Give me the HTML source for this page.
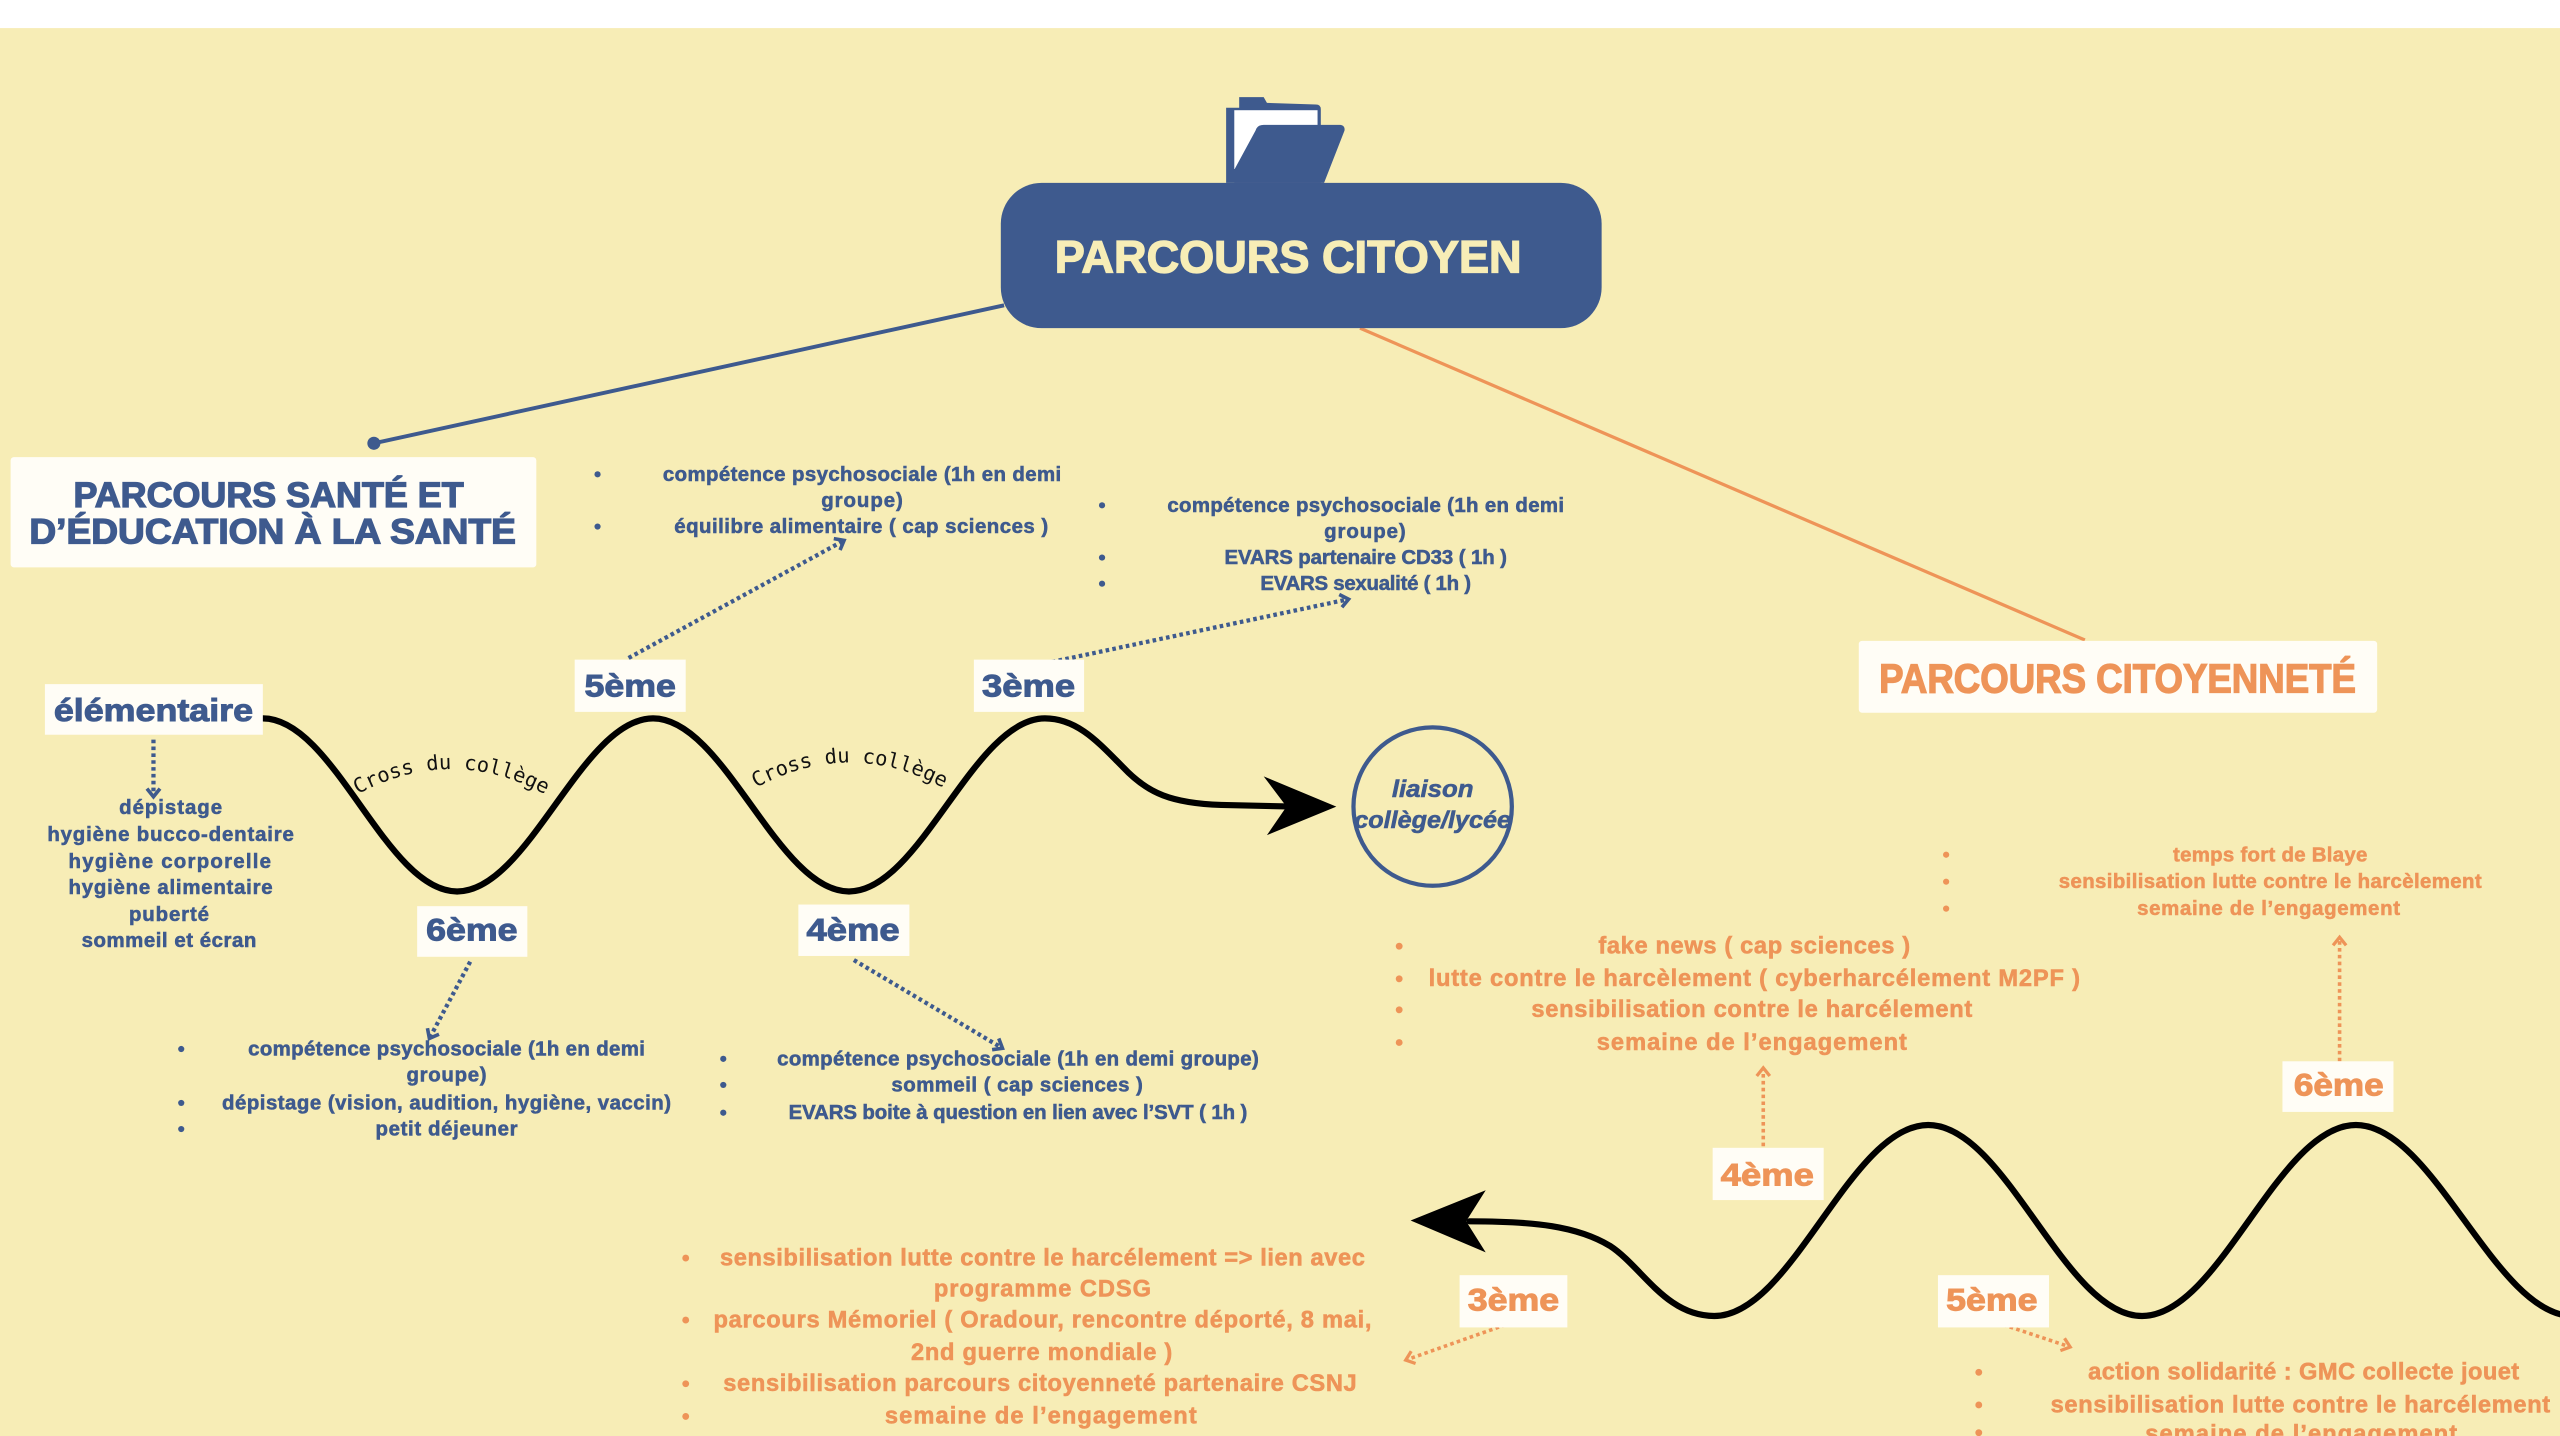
<!DOCTYPE html>
<html><head><meta charset="utf-8"><style>
html,body{margin:0;padding:0;background:#fff;}
svg{display:block;}
text{font-family:"Liberation Sans",Arial,sans-serif;font-weight:bold;}
.nv{fill:#3E5A8E;stroke:#3E5A8E;stroke-width:0.35;}
.or{fill:#EE9458;stroke:#EE9458;stroke-width:0.35;}
.lb{stroke-width:0.6;}
.tt{stroke-width:0.8;}
.mono{font-family:"DejaVu Sans Mono","Liberation Mono",monospace;font-weight:normal;fill:#111;}
</style></head><body>
<svg width="2560" height="1436" viewBox="0 0 1568 879.5" preserveAspectRatio="none" xmlns="http://www.w3.org/2000/svg">
<defs>
<marker id="mn" markerWidth="10" markerHeight="10" refX="7" refY="5" orient="auto" markerUnits="userSpaceOnUse" viewBox="0 0 10 10"><path d="M2,1 L7,5 L2,9" fill="none" stroke="#3E5A8E" stroke-width="2.2" stroke-dasharray="none"/></marker>
<marker id="mo" markerWidth="10" markerHeight="10" refX="7" refY="5" orient="auto" markerUnits="userSpaceOnUse" viewBox="0 0 10 10"><path d="M2,1 L7,5 L2,9" fill="none" stroke="#EE9458" stroke-width="2" stroke-dasharray="none"/></marker>
<path id="arc1" d="M213,490 Q276,452 340,490"/>
<path id="arc2" d="M457,486 Q520,448 584,486"/>
</defs>
<rect x="0" y="0" width="1568" height="17.2" fill="#ffffff"/>
<rect x="0" y="17.2" width="1568" height="863" fill="#F7EDB6"/>

<!-- connectors from main -->
<line x1="615" y1="187" x2="229" y2="271.5" stroke="#3E5A8E" stroke-width="2.4"/>
<circle cx="229" cy="271.5" r="4" fill="#3E5A8E"/>
<line x1="833" y1="201" x2="1277" y2="392" stroke="#EE9458" stroke-width="2"/>

<!-- folder icon -->
<path d="M751,66 L759,66 L759,59.5 L774,59.5 L776,63 L806,64 Q809,64 809,67 L809,112 L751,112 Z" fill="#3E5A8E"/>
<rect x="756" y="67.5" width="51" height="36" fill="#ffffff"/>
<path d="M769,80 Q770,76.5 774,76.5 L821,76.5 Q824,77 823.5,80 L811,112 L756,112 L756,104 Z" fill="#3E5A8E"/>

<!-- main box -->
<rect x="613" y="112" width="368" height="89" rx="25" fill="#3E5A8E"/>
<text x="789" y="167" font-size="28" text-anchor="middle" fill="#F7EDB6" stroke="#F7EDB6" stroke-width="0.8" textLength="286" lengthAdjust="spacingAndGlyphs">PARCOURS CITOYEN</text>

<!-- Santé box -->
<rect x="6.5" y="280" width="322" height="67.5" rx="2" fill="#FFFDF6"/>
<text x="164.5" y="310.5" font-size="21.5" text-anchor="middle" class="nv tt" textLength="239" lengthAdjust="spacingAndGlyphs">PARCOURS SANTÉ ET</text>
<text x="167" y="333" font-size="21.5" text-anchor="middle" class="nv tt" textLength="298" lengthAdjust="spacingAndGlyphs">D’ÉDUCATION À LA SANTÉ</text>

<!-- Citoyenneté box -->
<rect x="1138.5" y="392.5" width="317.5" height="44" rx="2" fill="#FFFDF6"/>
<text x="1297" y="424" font-size="25" text-anchor="middle" class="or tt" textLength="292" lengthAdjust="spacingAndGlyphs">PARCOURS CITOYENNETÉ</text>

<!-- left wave -->
<path d="M161,440 C204.7,440 236.3,546 280,546 C323.7,546 356.3,440 400,440 C443.7,440 476.3,546 520,546 C563.7,546 596.3,440 640,440 C660,440 673,455 688,470 C703,486 718,492 748,493 L792,494" fill="none" stroke="#000" stroke-width="3.8" stroke-linecap="round"/>
<path d="M818.5,494 L774,475.5 L788,494 L776,511.5 Z" fill="#000"/>

<!-- right wave -->
<path d="M1576,806 C1528.3,806 1490.7,689 1443,689 C1395.3,689 1359.7,806 1312,806 C1264.3,806 1228.7,689 1181,689 C1133.3,689 1097.7,806 1050,806 C1020,806 1006,776 986,763 C966,751 940,748 900,748" fill="none" stroke="#000" stroke-width="3.8" stroke-linecap="round"/>
<path d="M864,747.5 L910,729 L898,748 L910,767 Z" fill="#000"/>

<!-- cross du collège -->
<text class="mono" font-size="12.5"><textPath href="#arc1" startOffset="50%" text-anchor="middle">Cross du collège</textPath></text>
<text class="mono" font-size="12.5"><textPath href="#arc2" startOffset="50%" text-anchor="middle">Cross du collège</textPath></text>

<!-- circle -->
<circle cx="877.5" cy="494" r="48.5" fill="none" stroke="#3E5A8E" stroke-width="2.6"/>
<text x="877.5" y="488" font-size="14.5" text-anchor="middle" class="nv" font-style="italic" textLength="50" lengthAdjust="spacingAndGlyphs">liaison</text>
<text x="877.5" y="507" font-size="14.5" text-anchor="middle" class="nv" font-style="italic" textLength="96" lengthAdjust="spacingAndGlyphs">collège/lycée</text>

<!-- navy dotted arrows -->
<g fill="none" stroke="#3E5A8E" stroke-width="2.6" stroke-dasharray="2.2 2">
<path d="M94,453 L94,488" marker-end="url(#mn)"/>
<path d="M385,403 L517,331" marker-end="url(#mn)"/>
<path d="M632,408 L826,367" marker-end="url(#mn)"/>
<path d="M288,589 L263,636" marker-end="url(#mn)"/>
<path d="M523,588 L614,642" marker-end="url(#mn)"/>
</g>
<!-- orange dotted arrows -->
<g fill="none" stroke="#EE9458" stroke-width="2.2" stroke-dasharray="2.2 2">
<path d="M1080,702 L1080,654" marker-end="url(#mo)"/>
<path d="M1433,650 L1433,574" marker-end="url(#mo)"/>
<path d="M926,810 L861,833" marker-end="url(#mo)"/>
<path d="M1223,810 L1268,825" marker-end="url(#mo)"/>
</g>

<!-- navy labels -->
<rect x="27.5" y="419" width="133.5" height="31" fill="#FFFDF6"/>
<text x="94" y="441.5" font-size="19.5" text-anchor="middle" class="nv lb" textLength="122" lengthAdjust="spacingAndGlyphs">élémentaire</text>
<rect x="352" y="404" width="68" height="32" fill="#FFFDF6"/>
<text x="386" y="426.5" font-size="19.5" text-anchor="middle" class="nv lb" textLength="56" lengthAdjust="spacingAndGlyphs">5ème</text>
<rect x="596.5" y="404" width="67.5" height="32" fill="#FFFDF6"/>
<text x="630" y="426.5" font-size="19.5" text-anchor="middle" class="nv lb" textLength="57" lengthAdjust="spacingAndGlyphs">3ème</text>
<rect x="255.5" y="555" width="67.5" height="31" fill="#FFFDF6"/>
<text x="289" y="576" font-size="19.5" text-anchor="middle" class="nv lb" textLength="56" lengthAdjust="spacingAndGlyphs">6ème</text>
<rect x="489" y="554" width="68" height="31.5" fill="#FFFDF6"/>
<text x="522.5" y="576" font-size="19.5" text-anchor="middle" class="nv lb" textLength="57" lengthAdjust="spacingAndGlyphs">4ème</text>

<!-- orange labels -->
<rect x="1049" y="703" width="68" height="32" fill="#FFFDF6"/>
<text x="1082.5" y="726" font-size="19.5" text-anchor="middle" class="or lb" textLength="57" lengthAdjust="spacingAndGlyphs">4ème</text>
<rect x="1398" y="650" width="68" height="31" fill="#FFFDF6"/>
<text x="1432.5" y="671" font-size="19.5" text-anchor="middle" class="or lb" textLength="55" lengthAdjust="spacingAndGlyphs">6ème</text>
<rect x="894" y="781" width="66" height="32" fill="#FFFDF6"/>
<text x="927" y="802.5" font-size="19.5" text-anchor="middle" class="or lb" textLength="56" lengthAdjust="spacingAndGlyphs">3ème</text>
<rect x="1187" y="781" width="68" height="32" fill="#FFFDF6"/>
<text x="1220" y="802.5" font-size="19.5" text-anchor="middle" class="or lb" textLength="56" lengthAdjust="spacingAndGlyphs">5ème</text>

<!-- navy lists -->
<g font-size="12.5" text-anchor="middle" class="nv" lengthAdjust="spacingAndGlyphs">
<text x="528" y="294.5" textLength="244">compétence psychosociale (1h en demi</text>
<text x="528" y="310.5" textLength="50">groupe)</text>
<text x="527.5" y="326.5" textLength="229">équilibre alimentaire ( cap sciences )</text>

<text x="836.5" y="313.5" textLength="243">compétence psychosociale (1h en demi</text>
<text x="836" y="329.5" textLength="50">groupe)</text>
<text x="836.5" y="345.5" textLength="173">EVARS partenaire CD33 ( 1h )</text>
<text x="836.5" y="361.5" textLength="129">EVARS sexualité ( 1h )</text>

<text x="273.5" y="646.5" textLength="243">compétence psychosociale (1h en demi</text>
<text x="273.5" y="662.5" textLength="49">groupe)</text>
<text x="273.5" y="679.5" textLength="275">dépistage (vision, audition, hygiène, vaccin)</text>
<text x="273.5" y="695.5" textLength="87">petit déjeuner</text>

<text x="623.5" y="652.5" textLength="295">compétence psychosociale (1h en demi groupe)</text>
<text x="623" y="668.5" textLength="154">sommeil ( cap sciences )</text>
<text x="623.5" y="685.5" textLength="281">EVARS boite à question en lien avec l’SVT ( 1h )</text>

<text x="104.5" y="498.5" textLength="63">dépistage</text>
<text x="104.5" y="515" textLength="151">hygiène bucco-dentaire</text>
<text x="104" y="531.5" textLength="124">hygiène corporelle</text>
<text x="104.5" y="547.5" textLength="125">hygiène alimentaire</text>
<text x="103.5" y="564" textLength="49">puberté</text>
<text x="103.5" y="580" textLength="107">sommeil et écran</text>
</g>
<g fill="#3E5A8E">
<circle cx="366" cy="290.5" r="1.9"/><circle cx="366" cy="322.5" r="1.9"/>
<circle cx="675" cy="309.5" r="1.9"/><circle cx="675" cy="341.5" r="1.9"/><circle cx="675" cy="357.5" r="1.9"/>
<circle cx="111" cy="642.5" r="1.9"/><circle cx="111" cy="675.5" r="1.9"/><circle cx="111" cy="691.5" r="1.9"/>
<circle cx="443" cy="648.5" r="1.9"/><circle cx="443" cy="664.5" r="1.9"/><circle cx="443" cy="681.5" r="1.9"/>
</g>

<!-- orange lists -->
<g text-anchor="middle" class="or" lengthAdjust="spacingAndGlyphs">
<text x="1390.5" y="527.5" font-size="12.5" textLength="119">temps fort de Blaye</text>
<text x="1390.5" y="544" font-size="12.5" textLength="259">sensibilisation lutte contre le harcèlement</text>
<text x="1389.5" y="560.5" font-size="12.5" textLength="161">semaine de l’engagement</text>

<text x="1074.5" y="584" font-size="14.5" textLength="191">fake news ( cap sciences )</text>
<text x="1074.5" y="604" font-size="14.5" textLength="399">lutte contre le harcèlement  ( cyberharcélement M2PF )</text>
<text x="1073" y="623" font-size="14.5" textLength="270">sensibilisation contre le harcélement</text>
<text x="1073" y="643" font-size="14.5" textLength="190">semaine de l’engagement</text>

<text x="638.5" y="775" font-size="14.5" textLength="395">sensibilisation lutte contre le harcélement =&gt; lien avec</text>
<text x="638.5" y="794" font-size="14.5" textLength="133">programme CDSG</text>
<text x="638.5" y="813" font-size="14.5" textLength="403">parcours Mémoriel ( Oradour, rencontre déporté, 8 mai,</text>
<text x="638" y="833" font-size="14.5" textLength="160">2nd guerre mondiale )</text>
<text x="637" y="852" font-size="14.5" textLength="388">sensibilisation parcours citoyenneté partenaire CSNJ</text>
<text x="637.5" y="872" font-size="14.5" textLength="191">semaine de l’engagement</text>

<text x="1411" y="845" font-size="14.5" textLength="264">action solidarité : GMC collecte jouet</text>
<text x="1409" y="865" font-size="14.5" textLength="306">sensibilisation lutte contre le harcélement</text>
<text x="1409.5" y="883" font-size="14.5" textLength="191">semaine de l’engagement</text>
</g>
<g fill="#EE9458">
<circle cx="1192" cy="523.5" r="1.9"/><circle cx="1192" cy="540" r="1.9"/><circle cx="1192" cy="556.5" r="1.9"/>
<circle cx="857" cy="579.5" r="2.1"/><circle cx="857" cy="599.5" r="2.1"/><circle cx="857" cy="618.5" r="2.1"/><circle cx="857" cy="638.5" r="2.1"/>
<circle cx="420" cy="770.5" r="2.1"/><circle cx="420" cy="808.5" r="2.1"/><circle cx="420" cy="847.5" r="2.1"/><circle cx="420" cy="867.5" r="2.1"/>
<circle cx="1212" cy="840.5" r="2.1"/><circle cx="1212" cy="860.5" r="2.1"/><circle cx="1212" cy="877.5" r="2.1"/>
</g>
</svg>
</body></html>
